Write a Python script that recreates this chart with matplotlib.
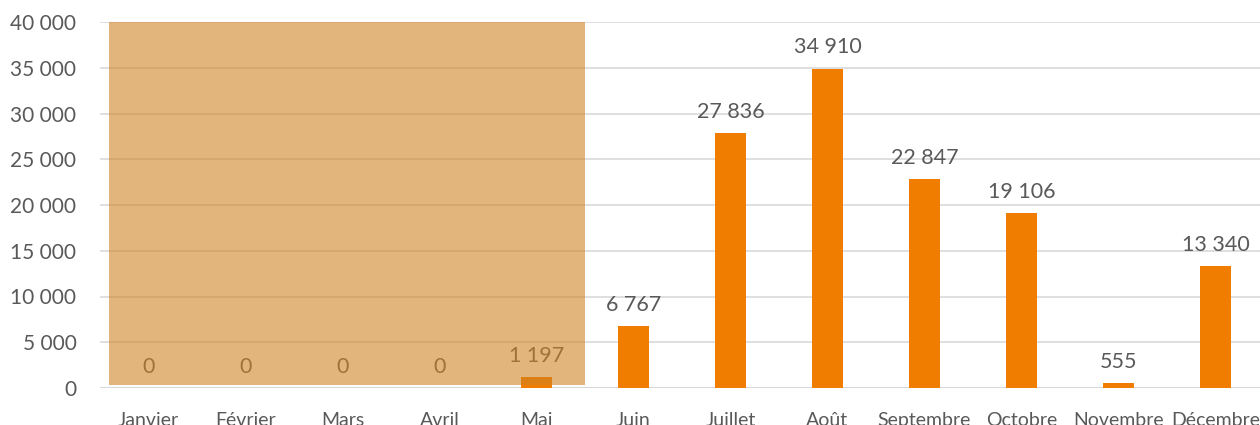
import matplotlib.pyplot as plt
from matplotlib.patches import Rectangle

mois = ['Janvier', 'Février', 'Mars', 'Avril', 'Mai', 'Juin', 'Juillet',
        'Août', 'Septembre', 'Octobre', 'Novembre', 'Décembre']
valeurs = [0, 0, 0, 0, 1197, 6767, 27836, 34910, 22847, 19106, 555, 13340]
yticks = [0, 5000, 10000, 15000, 20000, 25000, 30000, 35000, 40000]

gris = '#595959'
orange = '#F07C00'

def fmt(v):
    return f'{v:,}'.replace(',', ' ')

plt.rcParams['font.family'] = ['Lato', 'DejaVu Sans']

fig = plt.figure(figsize=(12.6, 4.25), dpi=100)
ax = fig.add_axes([100 / 1260, 37 / 425, 1164 / 1260, 366 / 425])

x = list(range(len(mois)))
ax.bar(x, valeurs, width=0.32, color=orange, zorder=2)
for xi, v in zip(x, valeurs):
    ax.annotate(fmt(v), (xi, v), xytext=(0, 8), textcoords='offset points',
                ha='center', va='bottom', fontsize=15.5, color=gris, zorder=3)

# zone grisée janvier-mai
ax.add_patch(Rectangle((-0.41, 330), 4.915, 40000 - 330, facecolor=(208 / 255, 132 / 255, 38 / 255),
                       alpha=0.6, edgecolor='none', zorder=4, clip_on=False))

ax.set_xlim(-0.5, 11.5)
ax.set_ylim(0, 40000)
ax.set_yticks(yticks)
ax.set_yticklabels([fmt(t) for t in yticks])
ax.set_xticks(x)
ax.set_xticklabels(mois)
ax.tick_params(axis='y', length=0, pad=17, labelsize=15, labelcolor=gris)
ax.tick_params(axis='x', length=0, pad=17.5, labelsize=14, labelcolor=gris)
ax.grid(axis='y', color='#D9D9D9', linewidth=1.2, zorder=0)
ax.set_axisbelow(True)
for s in ax.spines.values():
    s.set_visible(False)
ax.axhline(0, color='#D9D9D9', linewidth=1.5, zorder=1)

fig.savefig('out.png', dpi=100)
